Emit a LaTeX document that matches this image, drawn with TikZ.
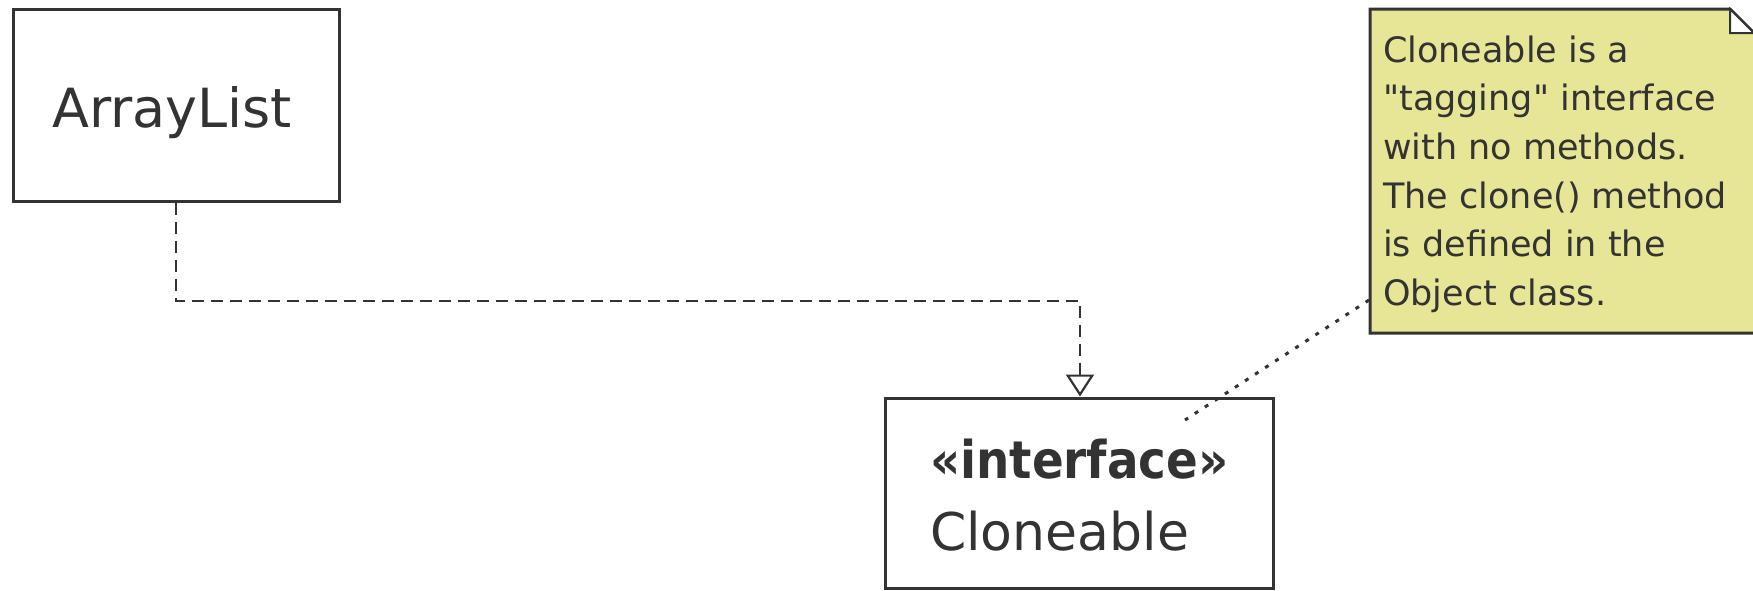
\documentclass[tikz,border=0pt]{standalone}
\usepackage{fontspec}
\setmainfont{DejaVu Sans}[Ligatures=TeXOff]
\newfontfamily\condfont{DejaVu Sans Condensed}[Ligatures=TeXOff]
\usetikzlibrary{arrows.meta}
\definecolor{ink}{RGB}{51,51,51}
\definecolor{notefill}{RGB}{230,230,150}
\tikzset{
  classbox/.style={draw=ink, line width=3pt, fill=white, rectangle, inner sep=0pt},
  classname/.style={text=ink, inner sep=0pt, font=\fontsize{54}{60}\selectfont},
  dep/.style={draw=ink, line width=2.2pt, dash pattern=on 12pt off 7pt,
    -{Triangle[open, length=22pt, width=28pt, line width=2.2pt, fill=white]}},
  noteline/.style={draw=ink, line width=3pt, dash pattern=on 4pt off 8pt},
  notebox/.style={draw=ink, line width=3pt, fill=notefill},
}
\begin{document}
\begin{tikzpicture}[x=1pt,y=-1pt]
\useasboundingbox (0,0) rectangle (1753,590);
\fill[white] (0,0) rectangle (1753,590);
% ArrayList
\node[classbox, minimum width=326pt, minimum height=192pt] (al) at (176,105) {};
\node[classname, anchor=base] (altext) at (172,127) {ArrayList};
% Cloneable
\node[classbox, minimum width=388pt, minimum height=190pt] (cl) at (1079,493) {};
\node[classname, anchor=base west, font=\condfont\bfseries\fontsize{52}{60}\selectfont] (clst) at (930,478) {«interface»};
\node[classname, anchor=base west, font=\fontsize{52}{60}\selectfont] (clname) at (930,550) {Cloneable};
% dependency
\coordinate (bend) at (1080,301);
\draw[dep] (al.south -| 176,0) |- (bend) -- (bend |- cl.north);
% note
\path[notebox] (1370,9) -- (1730,9) -- (1756,35) -- (1756,333) -- (1370,333) -- cycle;
\path[draw=ink, line width=2pt, fill=white] (1730,9) -- (1730,33) -- (1754,33) -- cycle;
\node[anchor=base west, inner sep=0pt, text=ink, font=\fontsize{35}{48.7}\selectfont] (note) at (1383,62)
  {\vtop{\baselineskip=48.7pt
   \hbox{Cloneable is a}
   \hbox{"tagging" interface}
   \hbox{with no methods.}
   \hbox{The clone() method}
   \hbox{is defined in the}
   \hbox{Object class.}}};
\coordinate (noteport) at (1369,300);
\coordinate (clend) at (1185,420);
\draw[noteline] (noteport) -- (clend);
\end{tikzpicture}
\end{document}
